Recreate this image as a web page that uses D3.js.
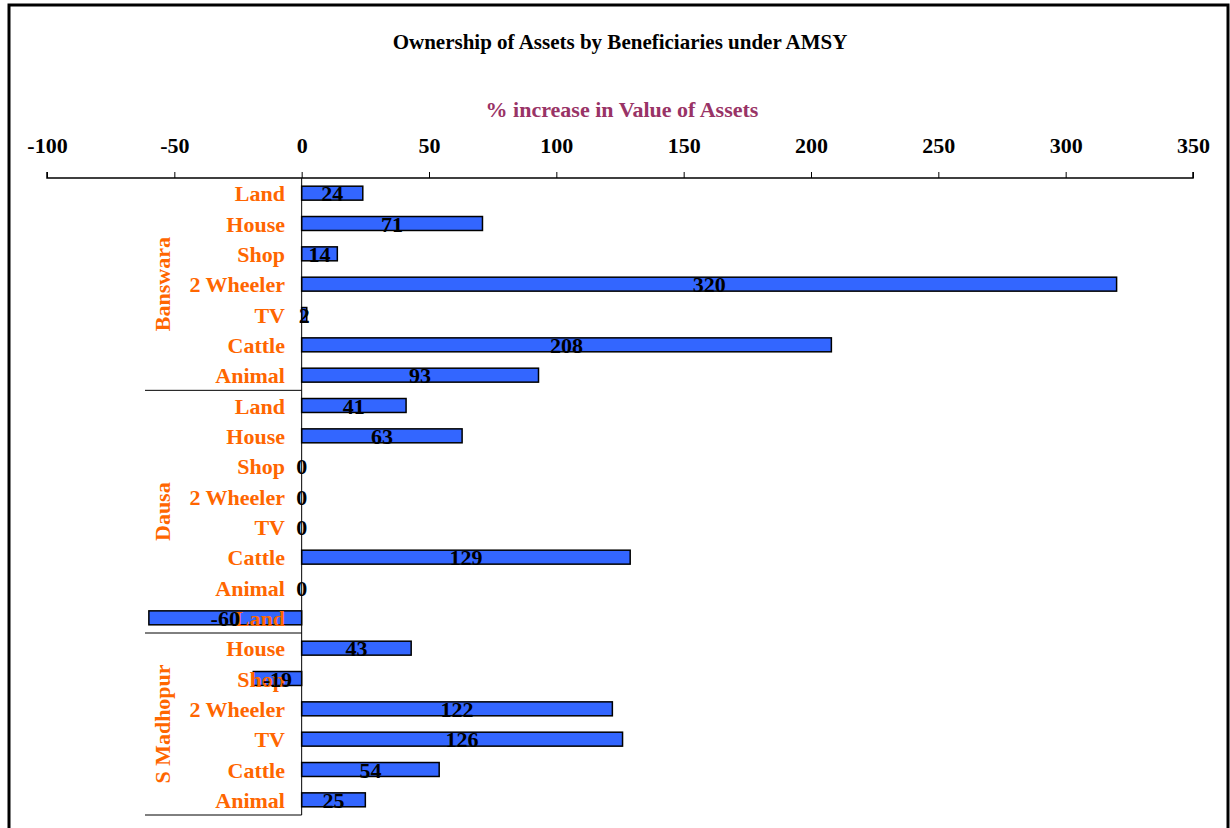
<!DOCTYPE html>
<html>
<head>
<meta charset="utf-8">
<script src="https://cdn.jsdelivr.net/npm/d3@7"></script>
<style>
  body { margin: 0; background: #fff; }
  text { font-family: "Liberation Serif", "Times New Roman", serif; font-weight: bold; }
</style>
</head>
<body>
<svg class="chart"></svg>
<script>
// the source sheet puts the -60 Land row inside the Dausa group
const groups = ['Banswara', 'Dausa', 'S Madhopur']
const banswaraAssets = ['Land', 'House', 'Shop', '2 Wheeler', 'TV', 'Cattle', 'Animal']
const banswara = [24, 71, 14, 320, 2, 208, 93]
const dausaAssets = ['Land', 'House', 'Shop', '2 Wheeler', 'TV', 'Cattle', 'Animal', 'Land']
const dausa = [41, 63, 0, 0, 0, 129, 0, -60]
const sMadhopurAssets = ['House', 'Shop', '2 Wheeler', 'TV', 'Cattle', 'Animal']
const sMadhopur = [43, -19, 122, 126, 54, 25]
const xTicks = [-100, -50, 0, 50, 100, 150, 200, 250, 300, 350]

const width = 1230, height = 828
const fs = '22px'
const svg = d3.select('.chart').attr('width', width).attr('height', height)

const rows = []
;[[banswaraAssets, banswara], [dausaAssets, dausa], [sMadhopurAssets, sMadhopur]].forEach(([names, vals], gi) => {
  vals.forEach((v, i) => rows.push({ group: gi, asset: names[i], value: v, id: gi + '-' + i }))
})

const x = d3.scaleLinear().domain([-100, 350]).range([47, 1193])
const y = d3.scaleBand().domain(rows.map(d => d.id)).range([178, 815]).paddingInner(0.54).paddingOuter(0.27)
const labelEdge = 145

// frame
svg.append('rect')
  .attr('x', 9).attr('y', 5).attr('width', 1219).attr('height', 900)
  .attr('fill', 'none').attr('stroke', '#000').attr('stroke-width', 3)

svg.append('text')
  .attr('x', 620).attr('y', 49)
  .attr('text-anchor', 'middle')
  .style('font-size', '21px')
  .text('Ownership of Assets by Beneficiaries under AMSY')

svg.append('text')
  .attr('x', 622).attr('y', 117)
  .attr('text-anchor', 'middle')
  .style('font-size', fs)
  .attr('fill', '#993366')
  .text('% increase in Value of Assets')

// top axis
const axis = svg.append('g')
  .attr('transform', 'translate(0,178)')
  .call(d3.axisTop(x).tickValues(xTicks).tickSize(6).tickPadding(19).tickFormat(d => String(d)))
axis.select('.domain').attr('stroke', '#000').attr('stroke-width', 1.5)
  .attr('d', `M${x(-100)},-6V0H${x(350)}V-6`)
axis.selectAll('.tick line').attr('stroke', '#000')
axis.selectAll('.tick text')
  .style('font-size', fs)
  .style('font-family', '"Liberation Serif", serif')
  .style('font-weight', 'bold')
  .attr('fill', '#000')

// bars
svg.append('g').selectAll('rect')
  .data(rows).enter().append('rect')
  .attr('x', d => x(Math.min(0, d.value)))
  .attr('y', d => y(d.id))
  .attr('width', d => Math.abs(x(d.value) - x(0)))
  .attr('height', y.bandwidth())
  .attr('fill', '#3366FF')
  .attr('stroke', '#000')
  .attr('stroke-width', 1.5)

// category axis line
svg.append('line')
  .attr('x1', x(0)).attr('x2', x(0))
  .attr('y1', 178).attr('y2', 815)
  .attr('stroke', '#000').attr('stroke-width', 1)

// group separators and group labels
groups.forEach((g, gi) => {
  const ids = rows.filter(d => d.group === gi).map(d => d.id)
  const yb = y(ids[ids.length - 1]) - y.step() * y.paddingInner() / 2 + y.step()
  svg.append('line')
    .attr('x1', labelEdge).attr('x2', x(0))
    .attr('y1', yb).attr('y2', yb)
    .attr('stroke', '#000').attr('stroke-width', 1)
  const first = y(ids[0]) + y.bandwidth() / 2
  const last = y(ids[ids.length - 1]) + y.bandwidth() / 2
  svg.append('text')
    .attr('transform', `translate(170,${(first + last) / 2}) rotate(-90)`)
    .attr('text-anchor', 'middle')
    .attr('fill', '#FF6600')
    .style('font-size', fs)
    .text(g)
})

// category labels
svg.append('g').selectAll('text')
  .data(rows).enter().append('text')
  .attr('x', 285)
  .attr('y', d => y(d.id) + y.bandwidth() / 2 + 8)
  .attr('text-anchor', 'end')
  .attr('fill', '#FF6600')
  .style('font-size', fs)
  .text(d => d.asset)

// value labels
svg.append('g').selectAll('text')
  .data(rows).enter().append('text')
  .attr('x', d => (x(d.value) + x(0)) / 2)
  .attr('y', d => y(d.id) + y.bandwidth() / 2 + 8)
  .attr('text-anchor', 'middle')
  .attr('fill', '#000')
  .style('font-size', fs)
  .text(d => d.value)
</script>
</body>
</html>
